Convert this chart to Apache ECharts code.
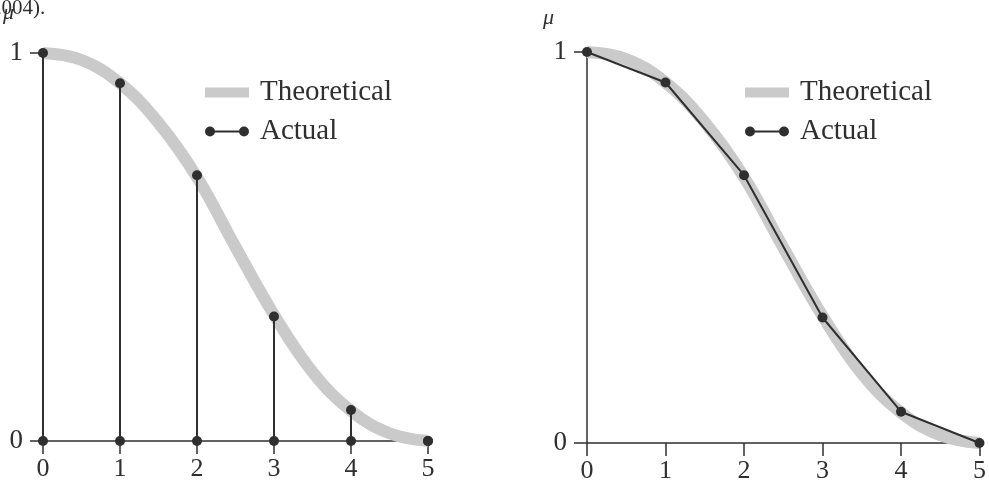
<!DOCTYPE html>
<html>
<head>
<meta charset="utf-8">
<script src="https://cdn.jsdelivr.net/npm/echarts@6/dist/echarts.min.js"></script>
<style>
  html, body { margin: 0; padding: 0; background: #fff; }
  #chart { width: 989px; height: 488px; }
</style>
</head>
<body>
<div id="chart"></div>
<script>
// Sample positions and membership values
const xTicks = [0, 1, 2, 3, 4, 5];
const actualX = [0, 1, 2, 3, 4, 5];
const actualMu = [1, 0.922, 0.685, 0.321, 0.08, 0];
const theoX = [0, 0.5, 1, 1.5, 2, 2.5, 3, 3.5, 4, 4.5, 5];
const theoMu = [1, 0.982, 0.922, 0.82, 0.68, 0.5, 0.325, 0.178, 0.078, 0.02, 0];

const ink = '#2f2f2f';
const band = '#cacaca';
const serif = '"Liberation Serif", "DejaVu Serif", serif';

const pairs = (xs, ys) => xs.map((x, i) => [x, ys[i]]);

const actualIcon = 'path://M0,5A5,5,0,1,1,10,5A5,5,0,1,1,0,5Z M34,5A5,5,0,1,1,44,5A5,5,0,1,1,34,5Z M5,4L39,4L39,6L5,6Z';

function xAxisFor(gridIndex) {
  return {
    type: 'value', gridIndex, min: 0, max: 5, interval: 1,
    axisLine: { show: true, lineStyle: { color: ink, width: 1.5 } },
    axisTick: { show: true, length: 13, lineStyle: { color: ink, width: 1.5 } },
    axisLabel: { color: ink, fontSize: 26, fontFamily: serif, margin: 15,
      formatter: v => xTicks.includes(v) ? String(v) : '' },
    splitLine: { show: false }
  };
}
function yAxisFor(gridIndex) {
  return {
    type: 'value', gridIndex, min: 0, max: 1, interval: 1,
    axisLine: { show: true, lineStyle: { color: ink, width: 1.5 } },
    axisTick: { show: true, length: 13, lineStyle: { color: ink, width: 1.5 } },
    axisLabel: { color: ink, fontSize: 27, fontFamily: serif, margin: 20 },
    splitLine: { show: false }
  };
}
function legendAt(left) {
  return {
    left, top: 73, orient: 'vertical', itemGap: 10,
    itemWidth: 44, itemHeight: 10,
    textStyle: { color: ink, fontSize: 29, fontFamily: serif, padding: [0, 0, 0, 6] },
    data: [
      { name: 'Theoretical', icon: 'rect' },
      { name: 'Actual', icon: actualIcon }
    ]
  };
}

const chart = echarts.init(document.getElementById('chart'), null, { renderer: 'canvas' });
chart.setOption({
  backgroundColor: '#ffffff',
  animation: false,
  grid: [
    { left: 43, top: 53, width: 385, height: 388 },
    { left: 587, top: 52, width: 393, height: 391 }
  ],
  xAxis: [xAxisFor(0), xAxisFor(1)],
  yAxis: [yAxisFor(0), yAxisFor(1)],
  legend: [legendAt(200), legendAt(740)],
  graphic: [
    { type: 'text', left: -9, top: -2,
      style: { text: '2004).', font: '21px ' + serif, fill: ink } },
    { type: 'text', left: 3, top: 2,
      style: { text: 'μ', font: 'italic 22px ' + serif, fill: ink } },
    { type: 'text', left: 543, top: 7,
      style: { text: 'μ', font: 'italic 22px ' + serif, fill: ink } }
  ],
  series: [
    {
      name: 'Theoretical', type: 'line', xAxisIndex: 0, yAxisIndex: 0,
      data: pairs(theoX, theoMu), smooth: 0.4, showSymbol: false,
      lineStyle: { color: band, width: 12 }, itemStyle: { color: band }, z: 1
    },
    {
      name: 'Actual', type: 'custom', xAxisIndex: 0, yAxisIndex: 0,
      data: pairs(actualX, actualMu), encode: { x: 0, y: 1 },
      itemStyle: { color: ink }, z: 5,
      renderItem(params, api) {
        const x = api.value(0), y = api.value(1);
        const top = api.coord([x, y]);
        const base = api.coord([x, 0]);
        return {
          type: 'group',
          children: [
            { type: 'line', shape: { x1: base[0], y1: base[1], x2: top[0], y2: top[1] },
              style: { stroke: ink, lineWidth: 2 } },
            { type: 'circle', shape: { cx: top[0], cy: top[1], r: 5 }, style: { fill: ink } },
            { type: 'circle', shape: { cx: base[0], cy: base[1], r: 5 }, style: { fill: ink } }
          ]
        };
      }
    },
    {
      name: 'Theoretical', type: 'line', xAxisIndex: 1, yAxisIndex: 1,
      data: pairs(theoX, theoMu), smooth: 0.4, showSymbol: false,
      lineStyle: { color: band, width: 12 }, itemStyle: { color: band }, z: 1
    },
    {
      name: 'Actual', type: 'line', xAxisIndex: 1, yAxisIndex: 1,
      data: pairs(actualX, actualMu), symbol: 'circle', symbolSize: 10,
      lineStyle: { color: ink, width: 2 }, itemStyle: { color: ink }, z: 5
    }
  ]
});
</script>
</body>
</html>
